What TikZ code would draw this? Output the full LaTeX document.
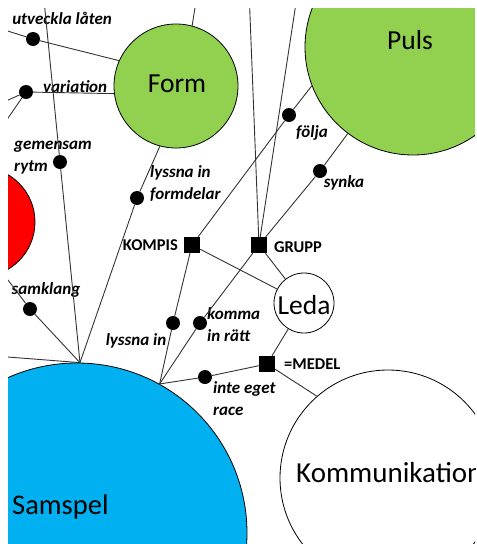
\documentclass[tikz,border=0pt]{standalone}
\usepackage{fontspec}
\setmainfont{Carlito}
\definecolor{lgreen}{HTML}{92D050}
\definecolor{sblue}{HTML}{00B0F0}
\definecolor{linec}{HTML}{333333}
\begin{document}
\begin{tikzpicture}[x=1pt,y=-1pt,
  conn/.style={draw=linec, line width=0.9pt},
  dot/.style={circle, fill=black, inner sep=0pt, minimum size=14pt},
  sq/.style={rectangle, fill=black, inner sep=0pt, minimum size=16pt},
  bigc/.style={circle, draw=black, line width=0.8pt, inner sep=0pt},
  lab/.style={font=\fontsize{17}{22}\selectfont\bfseries\itshape, inner sep=0pt, align=left},
  caps/.style={font=\fontsize{16.5}{18}\selectfont\bfseries, inner sep=0pt},
  big/.style={font=\fontsize{27.5}{30}\selectfont, inner sep=0pt}]
\useasboundingbox (0,0) rectangle (477,544);
\begin{scope}
\clip (8,8) rectangle (475,544);
% circles
\node[bigc, fill=lgreen, minimum size=124pt] (form) at (176,86) {};
\node[bigc, fill=lgreen, minimum size=216pt] (puls) at (413,47) {};
\node[bigc, fill=red, minimum size=110pt] (red) at (-20,222) {};
\node[bigc, fill=sblue, minimum size=340pt] (samspel) at (77,533) {};
\node[bigc, fill=white, minimum size=216pt] (kom) at (388,478) {};
\node[bigc, fill=white, minimum size=60pt] (leda) at (304,303) {};
% big labels
\node[big] (tform) at (177,84) {Form};
\node[big] (tpuls) at (410,40) {Puls};
\node[big] (tleda) at (304,305) {Leda};
\node[big, font=\fontsize{29}{30}\selectfont, anchor=west] (tkom) at (296,473) {Kommunikation};
\node[big, font=\fontsize{28.5}{30}\selectfont, anchor=west] (tsam) at (12,507) {Samspel};
% squares
\node[sq] (kompis) at (192,245) {};
\node[sq] (grupp) at (259,245) {};
\node[sq] (medel) at (267,364) {};
\node[caps, anchor=east] (tkompis) at (178,245) {KOMPIS};
\node[caps, anchor=west] (tgrupp) at (274,247) {GRUPP};
\node[caps, anchor=west] (tmedel) at (284,364) {=MEDEL};
% dots
\node[dot] (dU) at (33,39) {};
\node[dot] (dV) at (26,92) {};
\node[dot] (dG) at (60,162) {};
\node[dot] (dLF) at (137,198) {};
\node[dot] (dS) at (30,309) {};
\node[dot] (dLI) at (173,323) {};
\node[dot] (dK) at (200,323) {};
\node[dot] (dFo) at (289,115) {};
\node[dot] (dSy) at (320,171) {};
\node[dot] (dR) at (205,377) {};
% free ends
\coordinate (oU) at (-5,27);
\coordinate (oV1) at (-5,106);
\coordinate (oV2) at (-5,137);
\coordinate (oF) at (197,-5);
\coordinate (oG) at (43,-10);
\coordinate (oS) at (-5,263);
\coordinate (oH) at (-5,356);
\coordinate (oG1) at (249,-10);
\coordinate (oG2) at (298,-10);
% small labels
\node[lab, anchor=east] (lU) at (112,18) {utveckla låten};
\node[lab, anchor=west] (lV) at (43,87) {variation};
\node[lab, anchor=west] (lG) at (14,158) {gemensam\\rytm};
\node[lab, anchor=west] (lLF) at (150,184) {lyssna in\\formdelar};
\node[lab] (lFo) at (312,133) {följa};
\node[lab] (lSy) at (344,183) {synka};
\node[lab] (lS) at (46,290) {samklang};
\node[lab] (lLI) at (136,341) {lyssna in};
\node[lab, anchor=west] (lK) at (207,325) {komma\\in rätt};
\node[lab, anchor=west] (lR) at (213,399) {inte eget\\race};
% connectors
\draw[conn] (oU) -- (dU) -- (form.156);
\draw[conn] (dV) -- (form.187);
\draw[conn] (oV1) -- (dV);
\draw[conn] (oV2) -- (dV);
\draw[conn] (form.75) -- (oF);
\draw[conn] (form.255) -- (dLF) -- (samspel.89);
\draw[conn] (oG) -- (dG) -- (samspel.89);
\draw[conn] (oS) -- (dS) -- (samspel.89);
\draw[conn] (oH) -- (samspel.89);
\draw[conn] (kompis) -- (dFo) -- (puls.201.6);
\draw[conn] (grupp) -- (dSy) -- (puls.233.5);
\draw[conn] (grupp) -- (oG1);
\draw[conn] (grupp) -- (oG2);
\draw[conn] (kompis) -- (leda);
\draw[conn] (grupp) -- (leda);
\draw[conn] (kompis) -- (dLI) -- (samspel.61.5);
\draw[conn] (grupp) -- (dK) -- (samspel.61.5);
\draw[conn] (medel) -- (dR) -- (samspel.61.5);
\draw[conn] (leda) -- (medel);
\draw[conn] (medel) -- (kom.131);
\end{scope}
\end{tikzpicture}
\end{document}
